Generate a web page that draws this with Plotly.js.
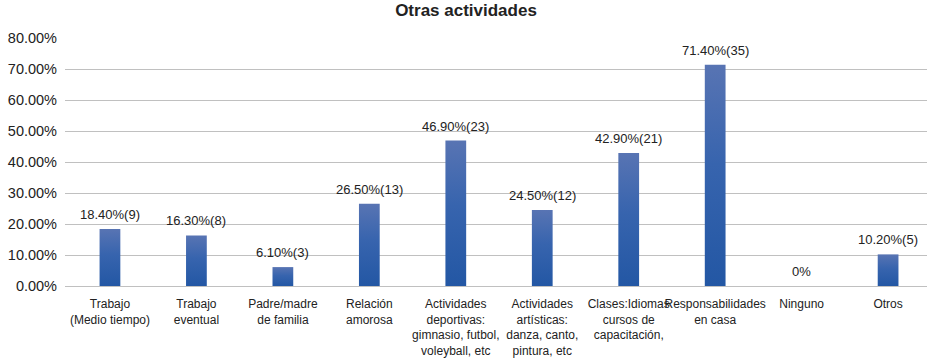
<!DOCTYPE html>
<html>
<head>
<meta charset="utf-8">
<script src="https://cdn.plot.ly/plotly-3.0.1.min.js"></script>
<style>
  html, body { margin: 0; padding: 0; background: #fff; }
  #chart { width: 932px; height: 359px; }
</style>
</head>
<body>
<div id="chart"></div>
<script>
const categories = [
  "Trabajo<br>(Medio tiempo)",
  "Trabajo<br>eventual",
  "Padre/madre<br>de familia",
  "Relación<br>amorosa",
  "Actividades<br>deportivas:<br>gimnasio, futbol,<br>voleyball, etc",
  "Actividades<br>artísticas:<br>danza, canto,<br>pintura, etc",
  "Clases:Idiomas<br>cursos de<br>capacitación,",
  "Responsabilidades<br>en casa",
  "Ninguno",
  "Otros"
];
const percentages = [18.4, 16.3, 6.1, 26.5, 46.9, 24.5, 42.9, 71.4, 0, 10.2];
const counts = [9, 8, 3, 13, 23, 12, 21, 35, 0, 5];
const yTickValues = [0, 10, 20, 30, 40, 50, 60, 70, 80];
const yTickLabels = ["0.00%", "10.00%", "20.00%", "30.00%", "40.00%", "50.00%", "60.00%", "70.00%", "80.00%"];

const labels = percentages.map((v, i) => counts[i] === 0 ? "0%" : v.toFixed(2) + "%(" + counts[i] + ")");

const trace = {
  type: "bar",
  x: categories,
  y: percentages,
  width: 0.24,
  marker: { color: "#3562ad" },
  hoverinfo: "none"
};

const annotations = categories.map((c, i) => ({
  x: c, y: percentages[i], xref: "x", yref: "y",
  text: labels[i], showarrow: false,
  yanchor: "bottom", yshift: 5,
  font: { family: "Liberation Sans, Arial, sans-serif", size: 13, color: "#222" }
}));

const layout = {
  width: 932, height: 359,
  margin: { l: 65, r: 5, t: 38, b: 73 },
  paper_bgcolor: "#fff", plot_bgcolor: "#fff",
  title: {
    text: "<b>Otras actividades</b>",
    x: 0.5, xanchor: "center", y: 0.972, yanchor: "middle",
    font: { family: "Liberation Sans, Arial, sans-serif", size: 17, color: "#222" }
  },
  showlegend: false,
  xaxis: {
    type: "category",
    range: [-0.52, 9.45],
    showgrid: false, zeroline: false, showline: false,
    ticks: "", ticklabelstandoff: 9, tickangle: 0, automargin: false,
    tickfont: { family: "Liberation Sans, Arial, sans-serif", size: 12, color: "#222" },
    fixedrange: true
  },
  yaxis: {
    range: [0, 80],
    tickmode: "array", tickvals: yTickValues, ticktext: yTickLabels,
    showgrid: true, gridcolor: "#c0c0c0", gridwidth: 1,
    zeroline: true, zerolinecolor: "#c0c0c0", zerolinewidth: 1,
    showline: false, ticks: "", ticklabelstandoff: 7, automargin: false,
    tickfont: { family: "Liberation Sans, Arial, sans-serif", size: 14.5, color: "#222" },
    fixedrange: true
  },
  annotations: annotations
};

Plotly.newPlot("chart", [trace], layout, { displayModeBar: false, staticPlot: true }).then(gd => {
  const svg = gd.querySelector("svg.main-svg");
  const ns = "http://www.w3.org/2000/svg";
  let defs = svg.querySelector("defs");
  if (!defs) { defs = document.createElementNS(ns, "defs"); svg.insertBefore(defs, svg.firstChild); }
  const grad = document.createElementNS(ns, "linearGradient");
  grad.setAttribute("id", "barGrad");
  grad.setAttribute("x1", "0"); grad.setAttribute("y1", "0");
  grad.setAttribute("x2", "0"); grad.setAttribute("y2", "1");
  [["0", "#5874b3"], ["0.45", "#3764ae"], ["1", "#2357a4"]].forEach(([o, c]) => {
    const s = document.createElementNS(ns, "stop");
    s.setAttribute("offset", o); s.setAttribute("stop-color", c);
    grad.appendChild(s);
  });
  defs.appendChild(grad);
  gd.querySelectorAll("g.trace.bars g.point path").forEach(p => {
    p.style.fill = "url(#barGrad)";
  });
});
</script>
</body>
</html>
